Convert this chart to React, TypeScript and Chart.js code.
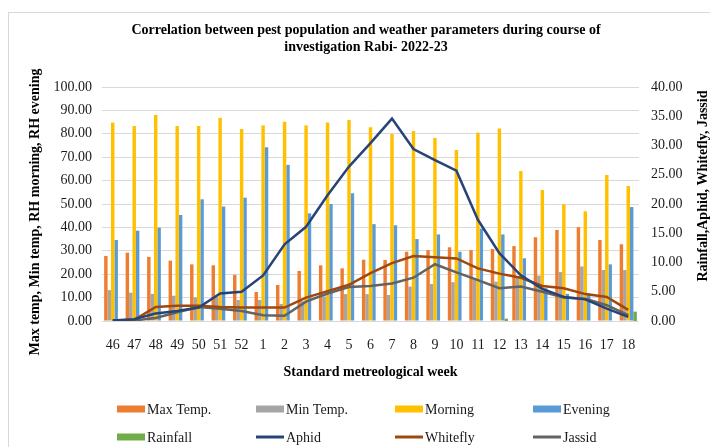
import React, { useEffect, useRef } from "react";
import { Chart, registerables } from "chart.js";

Chart.register(...registerables);

const weeks = ["46","47","48","49","50","51","52","1","2","3","4","5","6","7","8","9","10","11","12","13","14","15","16","17","18"];

const maxTemp = [27.8, 29.2, 27.4, 25.8, 24.2, 23.8, 19.7, 12.4, 15.4, 21.4, 23.8, 22.5, 26.2, 26.1, 29.6, 30.3, 31.5, 30.3, 30.8, 32.0, 35.8, 38.9, 40.1, 34.6, 32.8];
const minTemp = [13.2, 12.1, 11.6, 10.8, 10.1, 10.4, 9.0, 9.0, 7.3, 8.5, 10.5, 11.5, 11.5, 11.1, 14.7, 15.8, 16.6, 17.8, 16.8, 18.5, 19.4, 20.9, 23.3, 21.8, 21.8];
const morning = [84.8, 83.3, 88.0, 83.3, 83.3, 86.8, 82.1, 83.6, 85.2, 83.6, 84.8, 85.9, 82.8, 79.9, 81.2, 78.2, 73.1, 80.5, 82.3, 64.1, 56.0, 49.9, 46.9, 62.4, 57.7];
const evening = [34.6, 38.6, 39.9, 45.3, 52.0, 48.9, 52.7, 74.2, 66.7, 46.0, 50.0, 54.6, 41.4, 40.9, 35.0, 37.0, 29.6, 39.5, 37.0, 26.8, 14.0, 11.6, 11.8, 24.2, 48.7];
const rainfall = [0, 0, 0, 0, 0, 0, 0, 0, 0, 0, 0, 0, 0, 0, 0, 0, 0, 0, 0.4, 0, 0, 0, 0, 0, 1.6];
const aphid = [0.1, 0.3, 1.3, 1.7, 2.3, 4.7, 5.0, 7.8, 13.1, 16.1, 21.5, 26.4, 30.4, 34.6, 29.4, 27.5, 25.7, 17.3, 11.6, 7.8, 5.5, 4.1, 3.7, 2.1, 0.7];
const whitefly = [0.1, 0.2, 2.4, 2.6, 2.6, 2.4, 2.3, 2.3, 2.3, 4.0, 5.1, 6.2, 8.2, 9.9, 11.1, 10.9, 10.7, 9.0, 8.1, 7.4, 6.0, 5.6, 4.6, 4.1, 1.9];
const jassid = [0.0, 0.1, 0.5, 1.5, 2.4, 2.1, 1.7, 1.0, 0.9, 3.3, 4.7, 5.8, 6.0, 6.4, 7.4, 9.7, 8.3, 7.0, 5.6, 5.9, 5.0, 4.0, 3.8, 2.7, 1.0];

const titleLines = ["Correlation between pest population and weather parameters during course of", "investigation Rabi- 2022-23"];
const leftTitle = "Max temp, Min temp, RH morning, RH evening";
const rightTitle = "Rainfall,Aphid, Whitefly, Jassid";
const xTitle = "Standard metreological week";

const SERIF = "'Liberation Serif', 'Times New Roman', serif";

const C = {
  max: "#ED7D31",
  min: "#A5A5A5",
  morning: "#FFC000",
  evening: "#5B9BD5",
  rain: "#70AD47",
  aphid: "#264478",
  whitefly: "#9E480E",
  jassid: "#636363",
};

const legendItems = [
  { label: "Max Temp.", color: C.max, kind: "bar" },
  { label: "Min Temp.", color: C.min, kind: "bar" },
  { label: "Morning", color: C.morning, kind: "bar" },
  { label: "Evening", color: C.evening, kind: "bar" },
  { label: "Rainfall", color: C.rain, kind: "bar" },
  { label: "Aphid", color: C.aphid, kind: "line" },
  { label: "Whitefly", color: C.whitefly, kind: "line" },
  { label: "Jassid", color: C.jassid, kind: "line" },
];

const decorPlugin = {
  id: "decor",
  beforeDraw(chart: any) {
    const ctx = chart.ctx;
    ctx.save();
    ctx.fillStyle = "#ffffff";
    ctx.fillRect(0, 0, chart.width, chart.height);
    ctx.strokeStyle = "#D9D9D9";
    ctx.lineWidth = 1;
    ctx.strokeRect(8.5, 12.5, chart.width + 20, chart.height + 20);
    ctx.restore();
  },
  afterDraw(chart: any) {
    const ctx = chart.ctx;
    const area = chart.chartArea;
    ctx.save();
    ctx.fillStyle = "#000000";
    ctx.textAlign = "center";
    ctx.textBaseline = "middle";
    ctx.font = `bold 14px ${SERIF}`;
    ctx.fillText(titleLines[0], 366, 30);
    ctx.fillText(titleLines[1], 366, 47);

    // x title
    ctx.fillText(xTitle, (area.left + area.right) / 2, 372);

    // left title
    ctx.save();
    ctx.translate(35, 212);
    ctx.rotate(-Math.PI / 2);
    ctx.fillText(leftTitle, 0, 0);
    ctx.restore();

    // right title
    ctx.save();
    ctx.translate(703, 186);
    ctx.rotate(-Math.PI / 2);
    ctx.fillText(rightTitle, 0, 0);
    ctx.restore();

    // legend
    const colX = [147, 286, 425, 563];
    const rowY = [409, 437];
    ctx.font = `14px ${SERIF}`;
    ctx.textAlign = "left";
    legendItems.forEach((it, i) => {
      const x = colX[i % 4];
      const y = rowY[Math.floor(i / 4)];
      if (it.kind === "bar") {
        ctx.fillStyle = it.color;
        ctx.fillRect(x - 30, y - 3.5, 28, 7);
      } else {
        ctx.strokeStyle = it.color;
        ctx.lineWidth = 3;
        ctx.beginPath();
        ctx.moveTo(x - 30, y);
        ctx.lineTo(x - 2, y);
        ctx.stroke();
      }
      ctx.fillStyle = "#1a1a1a";
      ctx.fillText(it.label, x, y + 1);
    });
    ctx.restore();
  },
};

export default function App() {
  const ref = useRef<HTMLCanvasElement | null>(null);

  useEffect(() => {
    if (!ref.current) return;
    const barCommon = {
      type: "bar" as const,
      yAxisID: "y",
      order: 1,
      barPercentage: 1.0,
      categoryPercentage: 0.8,
      borderWidth: 0,
    };
    const lineCommon = {
      type: "line" as const,
      yAxisID: "y2",
      order: 0,
      borderWidth: 2.5,
      pointRadius: 0,
      tension: 0,
      fill: false,
    };
    const chart = new Chart(ref.current, {
      type: "bar",
      data: {
        labels: weeks,
        datasets: [
          { ...barCommon, label: "Max Temp.", data: maxTemp, backgroundColor: C.max },
          { ...barCommon, label: "Min Temp.", data: minTemp, backgroundColor: C.min },
          { ...barCommon, label: "Morning", data: morning, backgroundColor: C.morning },
          { ...barCommon, label: "Evening", data: evening, backgroundColor: C.evening },
          { ...barCommon, label: "Rainfall", data: rainfall, backgroundColor: C.rain, yAxisID: "y2" },
          { ...lineCommon, label: "Aphid", data: aphid, borderColor: C.aphid, backgroundColor: C.aphid },
          { ...lineCommon, label: "Whitefly", data: whitefly, borderColor: C.whitefly, backgroundColor: C.whitefly },
          { ...lineCommon, label: "Jassid", data: jassid, borderColor: C.jassid, backgroundColor: C.jassid },
        ] as any,
      },
      options: {
        animation: false,
        responsive: false,
        maintainAspectRatio: false,
        layout: { padding: { top: 87, left: 0, right: 0, bottom: 0 } },
        plugins: {
          legend: { display: false },
          title: { display: false },
          tooltip: { enabled: false },
        },
        scales: {
          x: {
            grid: { display: false, drawTicks: false },
            border: { display: false },
            ticks: {
              color: "#1a1a1a",
              font: { family: SERIF, size: 14 },
              padding: 16,
              autoSkip: false,
              maxRotation: 0,
            },
            afterFit(scale: any) {
              scale.height = 126;
            },
          },
          y: {
            position: "left",
            min: 0,
            max: 100,
            grid: { color: "#D9D9D9", drawTicks: false, lineWidth: 1 },
            border: { display: false },
            ticks: {
              stepSize: 10,
              color: "#1a1a1a",
              font: { family: SERIF, size: 14 },
              padding: 10,
              callback: (v: any) => Number(v).toFixed(2),
            },
            afterFit(scale: any) {
              scale.width = 102;
            },
          },
          y2: {
            position: "right",
            min: 0,
            max: 40,
            grid: { display: false, drawTicks: false },
            border: { display: false },
            ticks: {
              stepSize: 5,
              color: "#1a1a1a",
              font: { family: SERIF, size: 14 },
              padding: 12,
              callback: (v: any) => Number(v).toFixed(2),
            },
            afterFit(scale: any) {
              scale.width = 71;
            },
          },
        },
      } as any,
      plugins: [decorPlugin],
    });
    return () => chart.destroy();
  }, []);

  return (
    <div style={{ position: "fixed", left: 0, top: 0, width: 710, height: 447, background: "#fff" }}>
      <canvas ref={ref} width={710} height={447} style={{ display: "block", width: 710, height: 447 }} />
    </div>
  );
}
